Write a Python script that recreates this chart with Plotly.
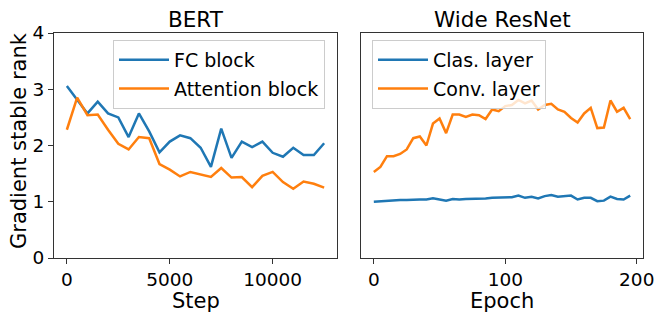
"""
Gradient stable rank during training: BERT vs Wide ResNet
"""

import plotly.graph_objects as go

# BERT panel (x = training step)
bert_steps = [i * 500 for i in range(26)]
bert_fc = [3.06, 2.81, 2.57, 2.78, 2.57, 2.50, 2.15, 2.57, 2.25, 1.88,
           2.07, 2.18, 2.13, 1.96, 1.62, 2.30, 1.78, 2.07, 1.97, 2.07,
           1.87, 1.80, 1.96, 1.83, 1.83, 2.04]
bert_attn = [2.28, 2.85, 2.54, 2.55, 2.28, 2.03, 1.93, 2.15, 2.13, 1.67,
             1.57, 1.45, 1.53, 1.49, 1.44, 1.60, 1.43, 1.44, 1.26, 1.46,
             1.53, 1.35, 1.23, 1.36, 1.32, 1.25]
bert_ticks = [0, 5000, 10000]

# Wide ResNet panel (x = epoch)
wrn_epochs = [i * 5 for i in range(40)]
wrn_clas = [1.00, 1.01, 1.01, 1.02, 1.03, 1.03, 1.04, 1.04, 1.04, 1.06,
            1.04, 1.02, 1.05, 1.04, 1.05, 1.05, 1.06, 1.06, 1.07, 1.07,
            1.08, 1.08, 1.11, 1.07, 1.09, 1.06, 1.10, 1.12, 1.09, 1.10,
            1.11, 1.04, 1.07, 1.07, 1.01, 1.02, 1.09, 1.05, 1.04, 1.11]
wrn_conv = [1.53, 1.62, 1.81, 1.81, 1.85, 1.93, 2.13, 2.16, 2.00, 2.39,
            2.48, 2.22, 2.55, 2.55, 2.51, 2.55, 2.54, 2.47, 2.64, 2.61,
            2.70, 2.72, 2.81, 2.75, 2.80, 2.64, 2.72, 2.74, 2.64, 2.60,
            2.49, 2.41, 2.57, 2.67, 2.31, 2.32, 2.80, 2.60, 2.67, 2.47]
wrn_ticks = [0, 100, 200]

y_ticks = [0, 1, 2, 3, 4]

BLUE = '#1f77b4'
ORANGE = '#ff7f0e'
FONT = 'DejaVu Sans'
W, H = 665, 320
OFF = 8  # the page body margin pushes the figure 8px right and down


def px(x):
    return (x - OFF) / W


def py(y):
    return 1 - (y - OFF) / H


fig = go.Figure()

line = dict(width=2.5)
fig.add_trace(go.Scatter(x=bert_steps, y=bert_fc, mode='lines', name='FC block',
                         line=dict(color=BLUE, **line), xaxis='x', yaxis='y',
                         legend='legend', legendgroup='a'))
fig.add_trace(go.Scatter(x=bert_steps, y=bert_attn, mode='lines', name='Attention block',
                         line=dict(color=ORANGE, **line), xaxis='x', yaxis='y',
                         legend='legend', legendgroup='b'))
fig.add_trace(go.Scatter(x=wrn_epochs, y=wrn_clas, mode='lines', name='Clas. layer',
                         line=dict(color=BLUE, **line), xaxis='x2', yaxis='y2',
                         legend='legend2', legendgroup='c'))
fig.add_trace(go.Scatter(x=wrn_epochs, y=wrn_conv, mode='lines', name='Conv. layer',
                         line=dict(color=ORANGE, **line), xaxis='x2', yaxis='y2',
                         legend='legend2', legendgroup='d'))

# panel edges in screen pixels
left_dom = [px(54), px(337)]
right_dom = [px(361), px(643)]
y_dom = [py(258), py(33)]

axis_common = dict(showline=True, mirror=True, linecolor='#333', linewidth=1.2,
                   showgrid=False, zeroline=False, ticks='outside', ticklen=5,
                   automargin=False,
                   tickcolor='#333', tickfont=dict(size=18.5, color='black', family=FONT))

legend_common = dict(bgcolor='rgba(255,255,255,0.8)', bordercolor='#cccccc', borderwidth=1,
                     font=dict(size=19, color='black', family=FONT),
                     xanchor='left', yanchor='top', tracegroupgap=1, itemwidth=50)

fig.update_layout(
    template='none',
    width=W, height=H,
    margin=dict(l=0, r=0, t=0, b=0, autoexpand=False),
    paper_bgcolor='white', plot_bgcolor='white',
    font=dict(family=FONT, color='black'),
    xaxis=dict(domain=left_dom, range=[-625, 13125], tickvals=bert_ticks,
               ticktext=[str(t) for t in bert_ticks], anchor='y', **axis_common),
    yaxis=dict(domain=y_dom, range=[0, 4], tickvals=y_ticks,
               ticktext=[str(t) for t in y_ticks], anchor='x', **axis_common),
    xaxis2=dict(domain=right_dom, range=[-9.75, 204.75], tickvals=wrn_ticks,
                ticktext=[str(t) for t in wrn_ticks], anchor='y2', **axis_common),
    yaxis2=dict(domain=y_dom, range=[0, 4], anchor='x2', showticklabels=False,
                **{**axis_common, 'ticks': ''}),
    legend=dict(x=px(113), y=py(40), **legend_common),
    legend2=dict(x=px(372), y=py(40), **legend_common),
    showlegend=True,
)

# titles and axis labels
annots = [
    dict(text='BERT', x=sum(left_dom) / 2, y=py(19), size=21.5),
    dict(text='Wide ResNet', x=sum(right_dom) / 2, y=py(19), size=21.5),
    dict(text='Step', x=sum(left_dom) / 2, y=py(301), size=21),
    dict(text='Epoch', x=sum(right_dom) / 2, y=py(301), size=21),
]
for a in annots:
    fig.add_annotation(text=a['text'], x=a['x'], y=a['y'], xref='paper', yref='paper',
                       xanchor='center', yanchor='middle', showarrow=False,
                       font=dict(size=a['size'], color='black', family=FONT))
fig.add_annotation(text='Gradient stable rank', x=px(19), y=py(141),
                   xref='paper', yref='paper', xanchor='center', yanchor='middle',
                   textangle=-90, showarrow=False,
                   font=dict(size=21, color='black', family=FONT))

fig.write_html("out.html")
